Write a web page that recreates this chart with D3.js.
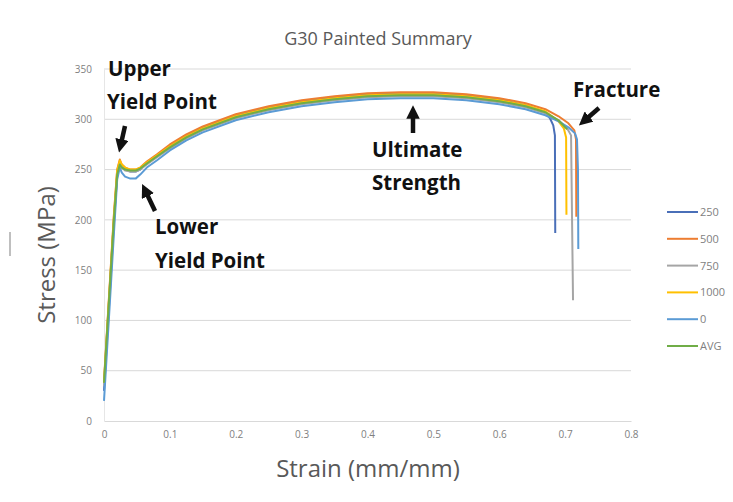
<!DOCTYPE html>
<html><head><meta charset="utf-8">
<script src="https://cdn.jsdelivr.net/npm/d3@7"></script>
<style>body{margin:0;background:#fff;}svg{display:block;}</style>
</head><body>
<script>
// ---- data ----
const strainGrid = [0, 0.005, 0.010, 0.015, 0.020, 0.024, 0.027, 0.032, 0.040, 0.048, 0.055, 0.065, 0.080, 0.100, 0.125, 0.150, 0.200, 0.250, 0.300, 0.350, 0.400, 0.450, 0.500, 0.550, 0.600, 0.640, 0.670];
const stress250  = [30, 85, 140, 196, 244, 256, 253, 250, 248, 248, 250, 257, 264, 274, 284, 292, 304, 312, 318, 322, 325, 326, 326, 324, 320, 314, 307];
const stress500  = [40, 95, 150, 205, 250, 260, 255, 252, 250, 250, 252, 258, 265, 275, 285, 293, 305, 313, 319, 323, 326, 327, 327, 325, 321, 316, 310];
const stress750  = [35, 90, 145, 200, 246, 256, 252, 249, 248, 248, 250, 255, 262, 271, 281, 289, 301, 309, 315, 319, 322, 323, 323, 321, 317, 312, 306];
const stress1000 = [38, 93, 148, 203, 249, 259, 255, 252, 250, 250, 252, 257, 264, 273, 283, 291, 303, 311, 317, 321, 324, 325, 325, 323, 319, 314, 308];
const stress0    = [20, 75, 130, 186, 240, 252, 247, 243, 241, 241, 245, 252, 259, 269, 279, 287, 299, 307, 313, 317, 320, 321, 321, 319, 315, 310, 304];
const stressAVG  = [38, 92, 146, 200, 245, 255, 252, 250, 249, 249, 251, 256, 263, 272, 282, 290, 302, 310, 316, 320, 323, 324, 324, 322, 318, 313, 307];
// fracture tails (strain, stress)
const tail250Strain  = [0.677, 0.682, 0.6845, 0.685];
const tail250Stress  = [301, 294, 284, 187];
const tail500Strain  = [0.690, 0.705, 0.714, 0.7165, 0.717];
const tail500Stress  = [303, 296, 289, 280, 203];
const tail750Strain  = [0.690, 0.703, 0.709, 0.712];
const tail750Stress  = [299, 291, 284, 120];
const tail1000Strain = [0.690, 0.698, 0.7015, 0.702];
const tail1000Stress = [298, 291, 282, 205];
const tail0Strain    = [0.690, 0.705, 0.715, 0.718, 0.7195, 0.720];
const tail0Stress    = [298, 292, 286, 280, 250, 171];
const tailAVGStrain  = [0.690, 0.703];
const tailAVGStress  = [299, 290];

const seriesNames  = ["250", "500", "750", "1000", "0", "AVG"];
const seriesColors = ["#4a6fb8", "#ed7d31", "#a5a5a5", "#ffc000", "#5b9bd5", "#70ad47"];
const xTicks = [0, 0.1, 0.2, 0.3, 0.4, 0.5, 0.6, 0.7, 0.8];
const yTicks = [0, 50, 100, 150, 200, 250, 300, 350];

const seriesData = [
  [stress250, tail250Strain, tail250Stress],
  [stress500, tail500Strain, tail500Stress],
  [stress750, tail750Strain, tail750Stress],
  [stress1000, tail1000Strain, tail1000Stress],
  [stress0, tail0Strain, tail0Stress],
  [stressAVG, tailAVGStrain, tailAVGStress]
].map(([s, ts, tv], i) => ({
  name: seriesNames[i], color: seriesColors[i],
  pts: strainGrid.map((x, j) => [x, s[j]]).concat(ts.map((x, j) => [x, tv[j]]))
}));

// ---- drawing ----
const W = 733, H = 502;
const svg = d3.select("body").append("svg").attr("width", W).attr("height", H);
const font = "'Open Sans', 'Liberation Sans', sans-serif";

const x = d3.scaleLinear().domain([0, 0.8]).range([104, 631]);
const y = d3.scaleLinear().domain([0, 350]).range([421, 69]);

// small artifact at the left edge
svg.append("line").attr("x1", 10).attr("x2", 10).attr("y1", 232).attr("y2", 256)
  .attr("stroke", "#bfbfbf").attr("stroke-width", 2);

// gridlines
svg.append("g").selectAll("line").data(yTicks.filter(d => d > 0)).join("line")
  .attr("x1", x(0)).attr("x2", x(0.8)).attr("y1", d => y(d)).attr("y2", d => y(d))
  .attr("stroke", "#d9d9d9").attr("stroke-width", 1);

// axes
const xAxis = svg.append("g").attr("transform", `translate(0,${y(0)})`)
  .call(d3.axisBottom(x).tickValues(xTicks).tickSize(0).tickPadding(10).tickFormat(d3.format("")));
xAxis.select(".domain").attr("stroke", "#d9d9d9");
xAxis.selectAll("text").attr("fill", "#808080").style("font-family", font).style("font-size", "10px");

const yAxis = svg.append("g").attr("transform", `translate(${x(0)},0)`)
  .call(d3.axisLeft(y).tickValues(yTicks).tickSize(0).tickPadding(12));
yAxis.select(".domain").attr("stroke", "#e6e6e6");
yAxis.selectAll("text").attr("fill", "#808080").style("font-family", font).style("font-size", "10px");

// lines
const line = d3.line().x(d => x(d[0])).y(d => y(d[1]));
svg.append("g").selectAll("path").data(seriesData).join("path")
  .attr("d", d => line(d.pts)).attr("fill", "none")
  .attr("stroke", d => d.color).attr("stroke-width", 2).attr("stroke-linejoin", "round");

// title
svg.append("text").attr("x", 378).attr("y", 45).attr("text-anchor", "middle")
  .style("font-family", font).style("font-size", "18px").attr("fill", "#595959")
  .text("G30 Painted Summary");

// axis titles
svg.append("text").attr("x", 368).attr("y", 477).attr("text-anchor", "middle")
  .style("font-family", font).style("font-size", "24px").attr("fill", "#595959")
  .text("Strain (mm/mm)");
svg.append("text").attr("transform", "translate(55,255) rotate(-90)").attr("text-anchor", "middle")
  .style("font-family", font).style("font-size", "24px").attr("fill", "#595959")
  .text("Stress (MPa)");

// legend
const leg = svg.append("g").selectAll("g").data(seriesData).join("g")
  .attr("transform", (d, i) => `translate(667,${212 + i * 26.8})`);
leg.append("line").attr("x1", 0).attr("x2", 31).attr("stroke", d => d.color).attr("stroke-width", 2);
leg.append("text").attr("x", 33).attr("y", 4).text(d => d.name)
  .style("font-family", font).style("font-size", "11px").attr("fill", "#7f7f7f");

// annotations
const ann = [
  ["Upper", 108, 76], ["Yield Point", 107, 109],
  ["Lower", 155, 234], ["Yield Point", 155, 268],
  ["Ultimate", 372, 157], ["Strength", 372, 190],
  ["Fracture", 573, 97]
];
svg.append("g").selectAll("text").data(ann).join("text")
  .attr("x", d => d[1]).attr("y", d => d[2]).text(d => d[0])
  .style("font-family", font).style("font-size", "20.5px").style("font-weight", "bold").attr("fill", "#111");

svg.append("defs").append("marker").attr("id", "ah").attr("viewBox", "0 0 10 10")
  .attr("refX", 5).attr("refY", 5).attr("markerWidth", 3).attr("markerHeight", 3)
  .attr("orient", "auto").attr("markerUnits", "strokeWidth")
  .append("path").attr("d", "M0,0 L10,5 L0,10 z").attr("fill", "#111");
const arrows = [
  [125, 126, 120.5, 146],
  [155, 211, 145, 190],
  [413, 133, 413, 112],
  [599, 108, 584, 121]
];
svg.append("g").selectAll("line").data(arrows).join("line")
  .attr("x1", d => d[0]).attr("y1", d => d[1]).attr("x2", d => d[2]).attr("y2", d => d[3])
  .attr("stroke", "#111").attr("stroke-width", 4.5).attr("marker-end", "url(#ah)");
</script>
</body></html>
